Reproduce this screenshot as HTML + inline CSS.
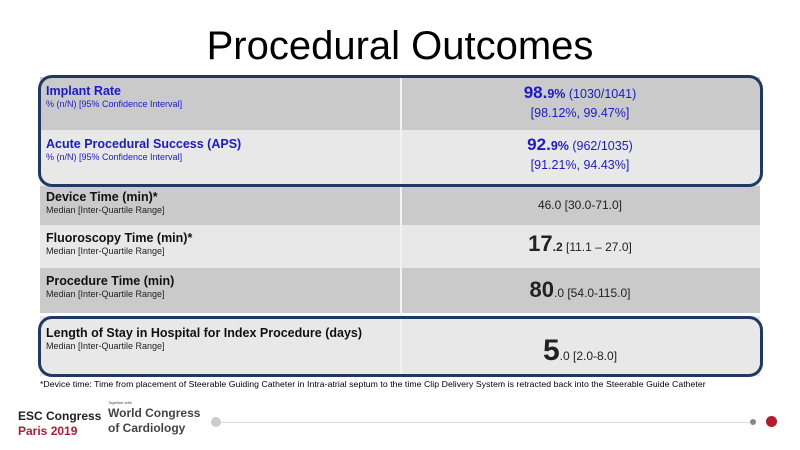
<!DOCTYPE html>
<html><head><meta charset="utf-8"><style>
body{margin:0;width:800px;height:450px;background:#fff;position:relative;overflow:hidden;font-family:"Liberation Sans",sans-serif;}
.abs{position:absolute;}
.row{position:absolute;left:40px;width:720px;}
.dark{background:#cacaca;}
.light{background:#e8e8e8;}
.lab{position:absolute;left:6px;}
.h{font-weight:bold;font-size:12.5px;color:#111;}
.s{font-size:9px;color:#222;margin-top:1px;}
.blue .h,.blue .s{color:#1a1acc;}
.val{position:absolute;left:360px;width:360px;text-align:center;color:#222;font-size:12px;}
.big{font-weight:bold;font-size:22px;}
.divider{position:absolute;left:400px;top:77px;width:2px;height:298px;background:#f2f2f2;}
.box{position:absolute;border:3px solid #1f3864;border-radius:14px;box-sizing:border-box;}
</style></head><body>
<div class="abs" style="left:0;top:24px;width:800px;text-align:center;font-size:40px;color:#000;">Procedural Outcomes</div>

<div class="row dark blue" style="top:77px;height:53px;">
 <div class="lab" style="top:7px"><div class="h">Implant Rate</div><div class="s">% (n/N) [95% Confidence Interval]</div></div>
 <div class="val" style="top:6px;color:#1a1acc;font-size:12.5px;line-height:19px;"><span style="font-weight:bold;font-size:17px">98.</span><b>9%</b> (1030/1041)<br>[98.12%, 99.47%]</div>
</div>
<div class="row light blue" style="top:130px;height:56px;">
 <div class="lab" style="top:7px"><div class="h">Acute Procedural Success (APS)</div><div class="s">% (n/N) [95% Confidence Interval]</div></div>
 <div class="val" style="top:5px;color:#1a1acc;font-size:12.5px;line-height:19px;"><span style="font-weight:bold;font-size:17px">92.</span><b>9%</b> (962/1035)<br>[91.21%, 94.43%]</div>
</div>
<div class="row dark" style="top:186px;height:39px;">
 <div class="lab" style="top:4px"><div class="h">Device Time (min)*</div><div class="s">Median [Inter-Quartile Range]</div></div>
 <div class="val" style="top:12px;">46.0 [30.0-71.0]</div>
</div>
<div class="row light" style="top:225px;height:43px;">
 <div class="lab" style="top:6px"><div class="h">Fluoroscopy Time (min)*</div><div class="s">Median [Inter-Quartile Range]</div></div>
 <div class="val" style="top:6px;"><span class="big">17</span><b>.2</b> [11.1 – 27.0]</div>
</div>
<div class="row dark" style="top:268px;height:45px;">
 <div class="lab" style="top:6px"><div class="h">Procedure Time (min)</div><div class="s">Median [Inter-Quartile Range]</div></div>
 <div class="val" style="top:9px;"><span class="big">80</span>.0 [54.0-115.0]</div>
</div>
<div class="row light" style="top:316px;height:60px;">
 <div class="lab" style="top:10px"><div class="h">Length of Stay in Hospital for Index Procedure (days)</div><div class="s">Median [Inter-Quartile Range]</div></div>
 <div class="val" style="top:18px;"><span style="font-weight:bold;font-size:30px">5</span>.0 [2.0-8.0]</div>
</div>
<div class="divider"></div>
<div class="box" style="left:38px;top:75px;width:725px;height:112px;"></div>
<div class="box" style="left:38px;top:316px;width:725px;height:61px;"></div>

<div class="abs" style="left:40px;top:379px;font-size:8.7px;color:#000;white-space:nowrap;letter-spacing:0.05px">*Device time: Time from placement of Steerable Guiding Catheter in Intra-atrial septum to the time Clip Delivery System is retracted back into the Steerable Guide Catheter</div>

<div class="abs" style="left:18px;top:409px;font-weight:bold;font-size:12px;line-height:15px;color:#222;">ESC Congress<br><span style="color:#b01c2e">Paris 2019</span></div>
<div class="abs" style="left:108px;top:399px;color:#444;font-weight:bold;font-size:12px;line-height:15px;"><span style="font-size:4px;font-weight:normal;display:block;line-height:7px">Together with</span>World Congress<br>of Cardiology</div>
<div class="abs" style="left:216px;top:422px;width:540px;height:1px;background:#ddd;"></div>
<div class="abs" style="left:211px;top:417px;width:10px;height:10px;border-radius:50%;background:#ccc;"></div>
<div class="abs" style="left:750px;top:419px;width:6px;height:6px;border-radius:50%;background:#888;"></div>
<div class="abs" style="left:766px;top:416px;width:11px;height:11px;border-radius:50%;background:#b01c2e;"></div>
</body></html>
